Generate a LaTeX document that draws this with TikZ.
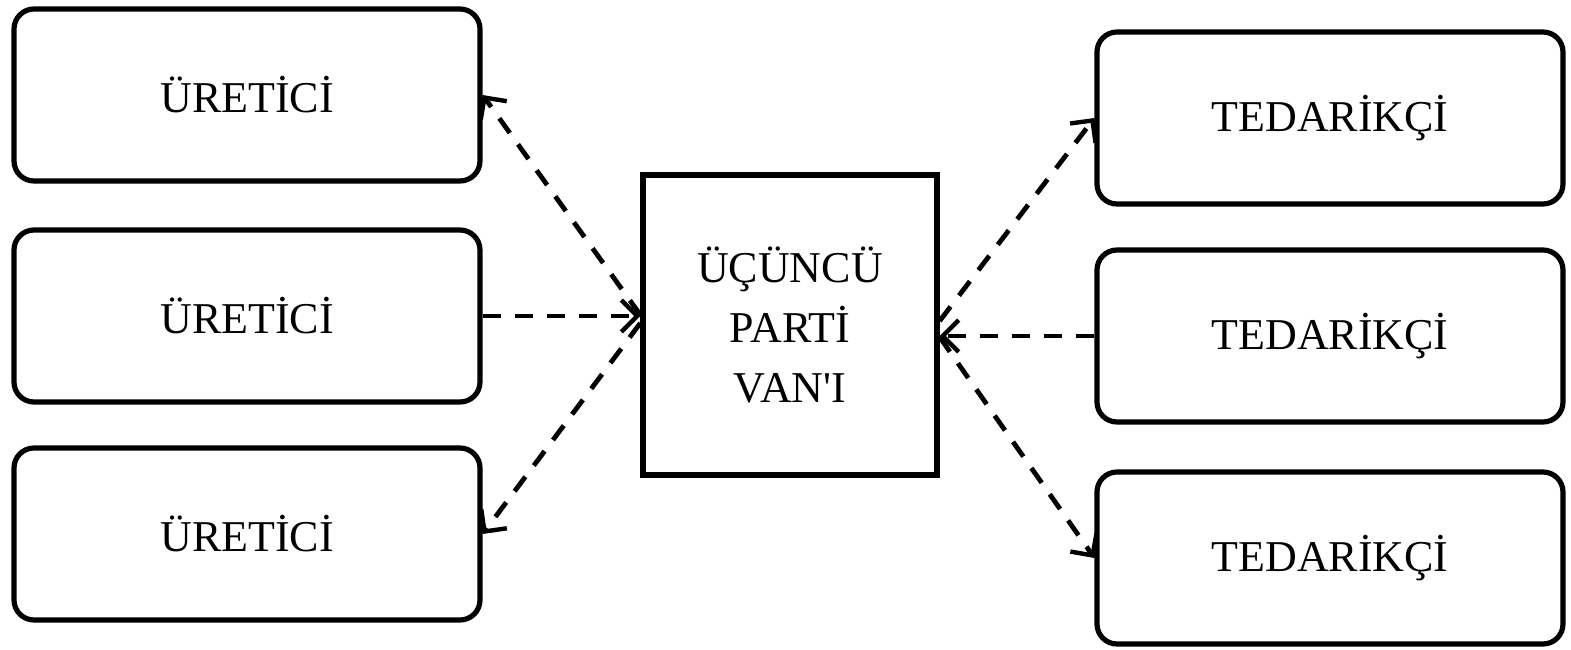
\documentclass[tikz,border=0pt]{standalone}
\usepackage{fontspec}
\setmainfont{Liberation Serif}
\usetikzlibrary{arrows.meta}
\begin{document}
\begin{tikzpicture}[x=0.5pt,y=-0.5pt,
  sidebox/.style={draw,rectangle,rounded corners=10pt,line width=2.6pt,minimum width=233pt,minimum height=86pt,font=\fontsize{22}{26}\selectfont,inner sep=0pt},
  midbox/.style={draw,rectangle,line width=2.6pt,minimum width=147pt,minimum height=150pt,font=\fontsize{22}{30}\selectfont,align=center,inner sep=0pt},
  link/.style={line width=2.4pt,dash pattern=on 9pt off 7pt,-{Straight Barb[length=8pt,width=16pt,line width=2.2pt]}}]
\useasboundingbox (0,0) rectangle (1571,649);
\node[sidebox] (u1) at (247,95) {ÜRETİCİ};
\node[sidebox] (u2) at (247,316) {ÜRETİCİ};
\node[sidebox] (u3) at (247,534) {ÜRETİCİ};
\node[midbox] (c) at (790,325) {ÜÇÜNCÜ\\PARTİ\\VAN\textquotesingle I};
\node[sidebox] (t1) at (1330,118) {TEDARİKÇİ};
\node[sidebox] (t2) at (1330,336) {TEDARİKÇİ};
\node[sidebox] (t3) at (1330,558) {TEDARİKÇİ};
\draw[link] ([yshift=5pt]c.west) -- (u1.east);
\draw[link] (u2.east) -- (u2.east -| c.west);
\draw[link] ([yshift=1pt]c.west) -- (u3.east);
\draw[link] ([yshift=2pt]c.east) -- (t1.west);
\draw[link] (t2.west) -- (t2.west -| c.east);
\draw[link] ([yshift=-6pt]c.east) -- (t3.west);
\end{tikzpicture}
\end{document}
